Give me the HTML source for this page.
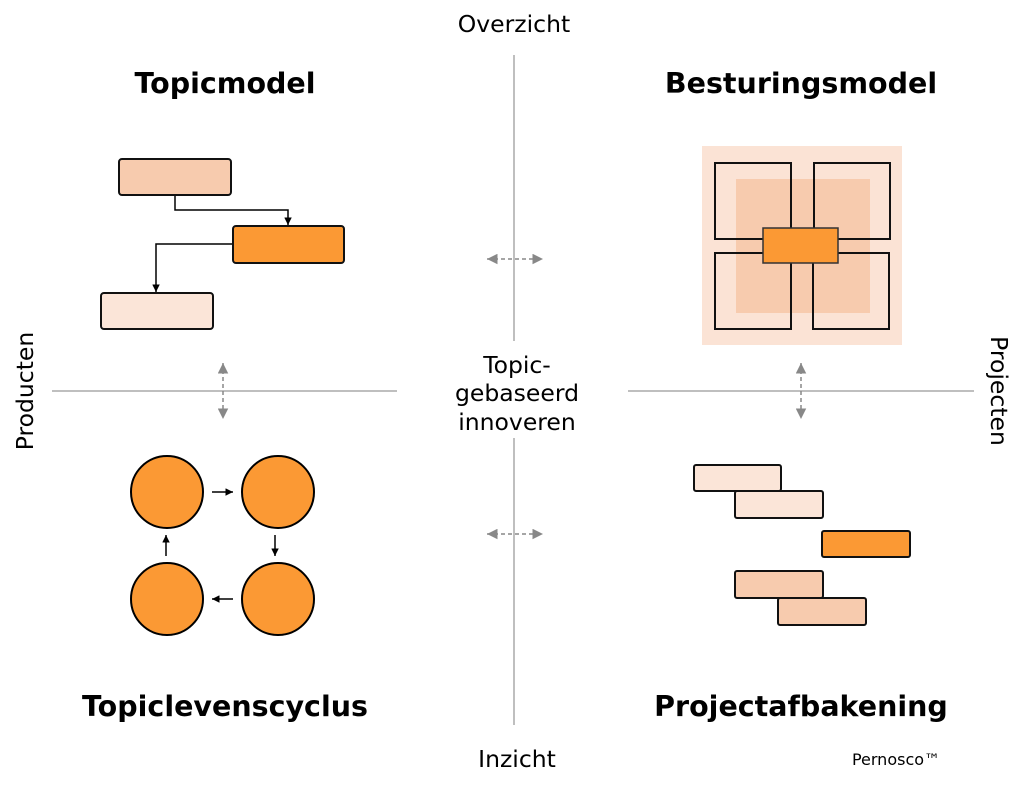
<!DOCTYPE html>
<html><head><meta charset="utf-8"><style>
html,body{margin:0;padding:0;background:#fff;}
svg{display:block;}
text{font-family:"DejaVu Sans","Liberation Sans",sans-serif;fill:#000;}
.t{font-weight:bold;font-size:28.5px;}
.l{font-size:23.5px;}
</style></head><body>
<svg width="1024" height="788" viewBox="0 0 1024 788" xmlns="http://www.w3.org/2000/svg">
<defs>
<marker id="a" viewBox="0 0 10 10" refX="10" refY="5" markerWidth="5" markerHeight="5" orient="auto-start-reverse"><path d="M0,0L10,5L0,10z" fill="#000"/></marker>
<marker id="g" viewBox="0 0 10 10" refX="10" refY="5" markerWidth="7" markerHeight="7" orient="auto-start-reverse"><path d="M0,0L10,5L0,10z" fill="#888"/></marker>
</defs>
<g stroke="#aaa" stroke-width="1.5">
<line x1="514" y1="55" x2="514" y2="341"/>
<line x1="514" y1="438" x2="514" y2="725"/>
<line x1="52" y1="391" x2="397" y2="391"/>
<line x1="628" y1="391" x2="974" y2="391"/>
</g>
<text class="l" x="514" y="32" text-anchor="middle">Overzicht</text>
<text class="l" x="517" y="767" text-anchor="middle">Inzicht</text>
<text class="l" x="517" y="373" text-anchor="middle">Topic-</text>
<text class="l" x="517" y="401" text-anchor="middle">gebaseerd</text>
<text class="l" x="517" y="430" text-anchor="middle">innoveren</text>
<text class="l" transform="translate(33,391) rotate(-90)" text-anchor="middle">Producten</text>
<text class="l" transform="translate(991,391) rotate(90)" text-anchor="middle">Projecten</text>
<text class="t" x="225" y="93" text-anchor="middle">Topicmodel</text>
<text class="t" x="801" y="93" text-anchor="middle">Besturingsmodel</text>
<text class="t" x="225" y="716" text-anchor="middle">Topiclevenscyclus</text>
<text class="t" x="801" y="716" text-anchor="middle">Projectafbakening</text>
<text x="896" y="765" text-anchor="middle" style="font-size:16px">Pernosco™</text>
<g stroke="#888" stroke-width="1.5" stroke-dasharray="4,3" fill="none">
<line x1="487" y1="259" x2="543" y2="259" marker-start="url(#g)" marker-end="url(#g)"/>
<line x1="487" y1="534" x2="543" y2="534" marker-start="url(#g)" marker-end="url(#g)"/>
<line x1="223" y1="363" x2="223" y2="419" marker-start="url(#g)" marker-end="url(#g)"/>
<line x1="801" y1="363" x2="801" y2="419" marker-start="url(#g)" marker-end="url(#g)"/>
</g>
<g stroke="#000" stroke-width="1.5" fill="none">
<polyline points="175,196 175,210 288,210 288,225" marker-end="url(#a)"/>
<polyline points="233,244 156,244 156,292" marker-end="url(#a)"/>
</g>
<g stroke="#111" stroke-width="2">
<rect x="119" y="159" width="112" height="36" rx="3" fill="#f7cbae"/>
<rect x="233" y="226" width="111" height="37" rx="3" fill="#fb9934"/>
<rect x="101" y="293" width="112" height="36" rx="3" fill="#fbe5d8"/>
</g>
<rect x="702" y="146" width="200" height="199" fill="#fbe3d5"/>
<rect x="736" y="179" width="134" height="134" fill="#f7cbae"/>
<g stroke="#111" stroke-width="2" fill="none">
<rect x="715" y="163" width="76" height="76"/>
<rect x="814" y="163" width="76" height="76"/>
<rect x="715" y="253" width="76" height="76"/>
<rect x="813" y="253" width="76" height="76"/>
</g>
<rect x="763" y="228" width="75" height="35" fill="#fb9934" stroke="#333" stroke-width="1.5"/>
<g stroke="#000" stroke-width="2" fill="#fb9934">
<circle cx="167" cy="492" r="36"/><circle cx="278" cy="492" r="36"/>
<circle cx="167" cy="599" r="36"/><circle cx="278" cy="599" r="36"/>
</g>
<g stroke="#000" stroke-width="1.5">
<line x1="212" y1="492" x2="233" y2="492" marker-end="url(#a)"/>
<line x1="275" y1="535" x2="275" y2="556" marker-end="url(#a)"/>
<line x1="233" y1="599" x2="212" y2="599" marker-end="url(#a)"/>
<line x1="166" y1="556" x2="166" y2="535" marker-end="url(#a)"/>
</g>
<g stroke="#111" stroke-width="2">
<rect x="694" y="465" width="87" height="26" rx="2" fill="#fbe5d8"/>
<rect x="735" y="491" width="88" height="27" rx="2" fill="#fbe5d8"/>
<rect x="822" y="531" width="88" height="26" rx="2" fill="#fb9934"/>
<rect x="735" y="571" width="88" height="27" rx="2" fill="#f7cbae"/>
<rect x="778" y="598" width="88" height="27" rx="2" fill="#f7cbae"/>
</g>
</svg>
</body></html>
